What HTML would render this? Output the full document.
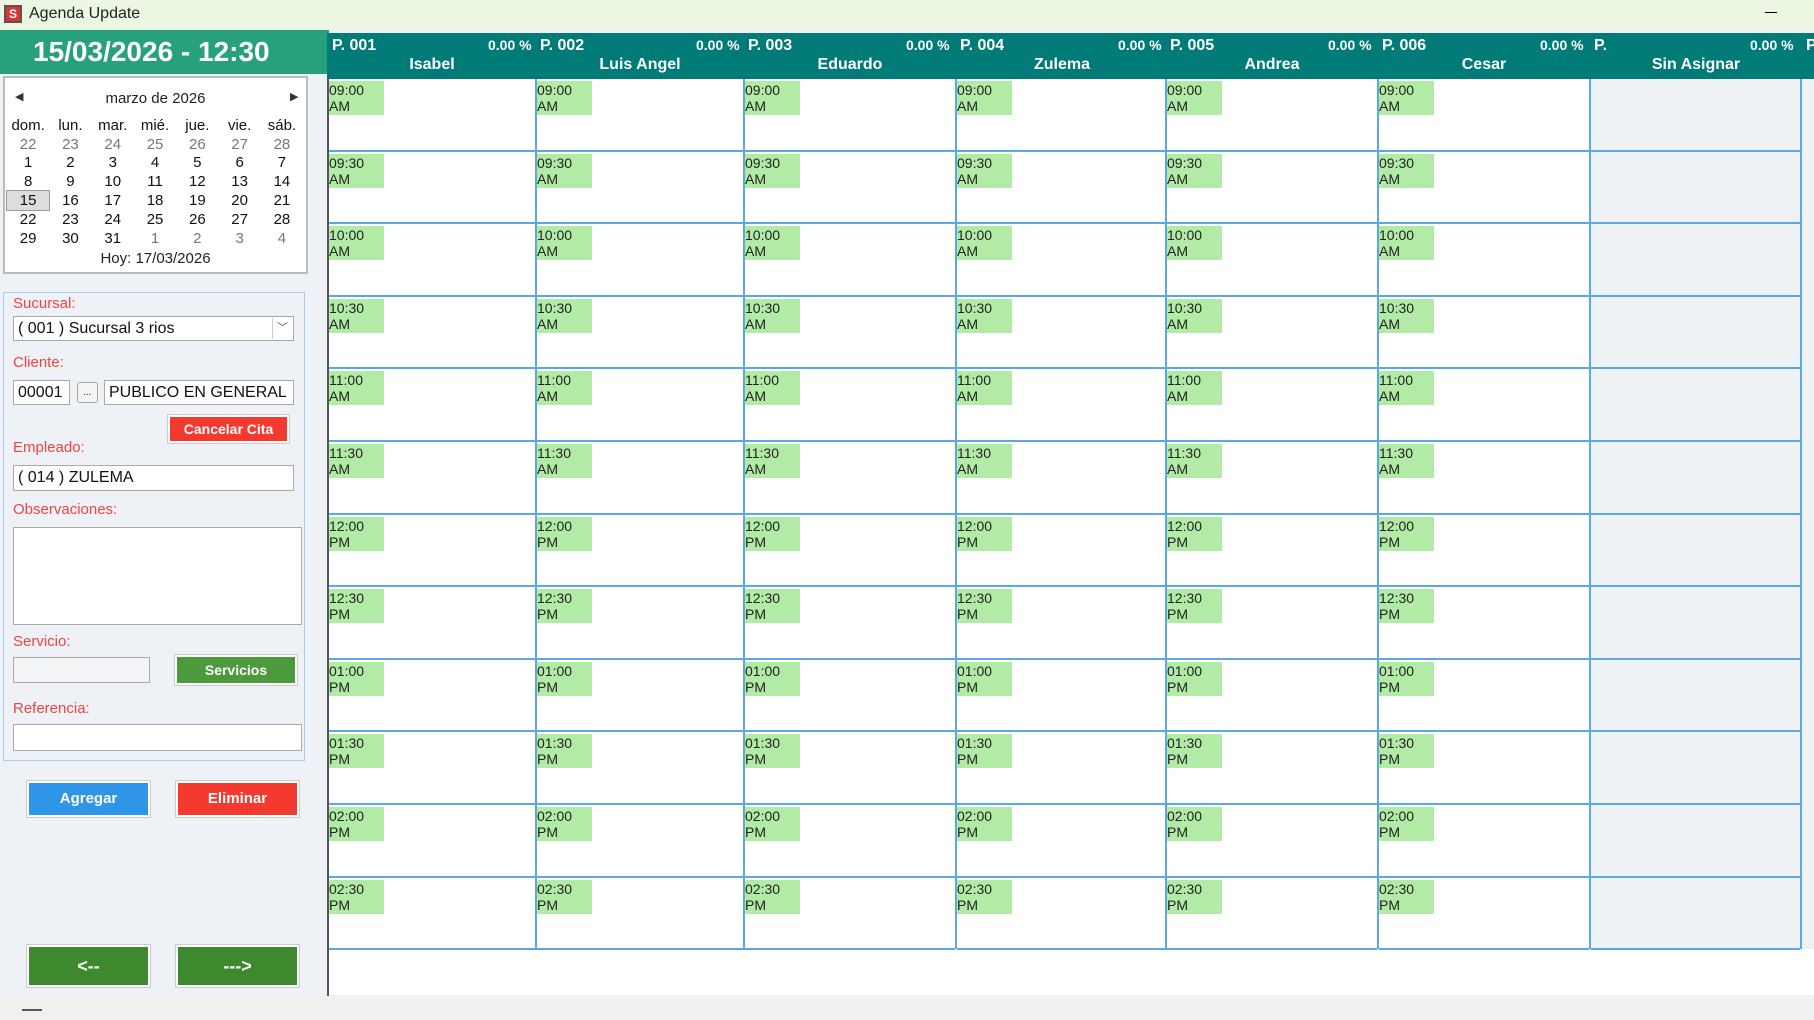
<!DOCTYPE html>
<html><head><meta charset="utf-8"><style>
*{box-sizing:border-box;margin:0;padding:0}
body{width:1814px;height:1020px;position:relative;overflow:hidden;background:#eef1f5;font-family:"Liberation Sans",sans-serif}
.a{position:absolute}
.tb{left:0;top:0;width:1814px;height:30px;background:#ebf7e3;font-size:16px;color:#222}
.lab{color:#ee4444;font-size:15px;position:absolute;left:13px}
.inp{position:absolute;background:#fff;border:1px solid #aaa;font-size:16px;color:#111;padding:3px 4px;white-space:nowrap}
.btn{position:absolute;color:#fff;font-weight:bold;font-size:14px;text-align:center;border:2px solid #fff;box-shadow:0 0 0 1px #ccc}
.col{position:absolute;top:79px;width:212px;height:870px;border-left:2px solid #5aa9e6;background:#fff}
.cell{height:72.6px;border-bottom:2px solid #5aa9e6;padding-top:2px}
.g{background:#b2eba6;width:55px;height:34px;font-size:14px;line-height:16px;color:#222;padding-top:1px}
.hd{position:absolute;top:35px;height:44px;color:#fff;font-weight:bold}
.cal{table-layout:fixed}
.cal td{text-align:center;font-size:15px;height:18.8px;color:#111;width:42.3px}
.cal .o{color:#777}
</style></head><body>
<div class="a tb"><div class="a" style="left:4px;top:5px;width:18px;height:18px;background:#d33;border:2px solid #555;color:#fff;font-size:12px;font-weight:bold;text-align:center;line-height:14px">S</div><div class="a" style="left:29px;top:5px">Agenda Update</div><div class="a" style="left:1765px;top:12px;width:12px;height:1px;background:#000"></div></div>
<div class="a" style="left:0;top:30px;width:329px;height:44px;background:#26a17b;color:#fff;font-weight:bold;font-size:28px;line-height:44px;padding-left:33px;white-space:nowrap">15/03/2026 - 12:30</div>
<div class="a" style="left:327px;top:33px;width:1487px;height:46px;background:#007b78"></div>
<div class="hd" style="left:332px;width:210px"><div class="a" style="top:2px;font-size:16px">P. 001</div><div class="a" style="left:156px;top:2px;font-size:14px">0.00 %</div><div class="a" style="left:0;width:200px;top:21px;font-size:16px;text-align:center">Isabel</div></div>
<div class="hd" style="left:540px;width:210px"><div class="a" style="top:2px;font-size:16px">P. 002</div><div class="a" style="left:156px;top:2px;font-size:14px">0.00 %</div><div class="a" style="left:0;width:200px;top:21px;font-size:16px;text-align:center">Luis Angel</div></div>
<div class="hd" style="left:748px;width:210px"><div class="a" style="top:2px;font-size:16px">P. 003</div><div class="a" style="left:158px;top:2px;font-size:14px">0.00 %</div><div class="a" style="left:0;width:204px;top:21px;font-size:16px;text-align:center">Eduardo</div></div>
<div class="hd" style="left:960px;width:210px"><div class="a" style="top:2px;font-size:16px">P. 004</div><div class="a" style="left:158px;top:2px;font-size:14px">0.00 %</div><div class="a" style="left:0;width:204px;top:21px;font-size:16px;text-align:center">Zulema</div></div>
<div class="hd" style="left:1170px;width:210px"><div class="a" style="top:2px;font-size:16px">P. 005</div><div class="a" style="left:158px;top:2px;font-size:14px">0.00 %</div><div class="a" style="left:0;width:204px;top:21px;font-size:16px;text-align:center">Andrea</div></div>
<div class="hd" style="left:1382px;width:210px"><div class="a" style="top:2px;font-size:16px">P. 006</div><div class="a" style="left:158px;top:2px;font-size:14px">0.00 %</div><div class="a" style="left:0;width:204px;top:21px;font-size:16px;text-align:center">Cesar</div></div>
<div class="hd" style="left:1594px;width:220px"><div class="a" style="top:2px;font-size:16px">P.</div><div class="a" style="left:156px;top:2px;font-size:14px">0.00 %</div><div class="a" style="left:0;width:204px;top:21px;font-size:16px;text-align:center">Sin Asignar</div><div class="a" style="left:212px;top:2px;font-size:16px">P</div></div>
<div class="a" style="left:327px;top:79px;width:1487px;height:916px;background:#fff"></div>
<div class="col" style="left:327px"><div class="cell"><div class="g">09:00<br>AM</div></div><div class="cell"><div class="g">09:30<br>AM</div></div><div class="cell"><div class="g">10:00<br>AM</div></div><div class="cell"><div class="g">10:30<br>AM</div></div><div class="cell"><div class="g">11:00<br>AM</div></div><div class="cell"><div class="g">11:30<br>AM</div></div><div class="cell"><div class="g">12:00<br>PM</div></div><div class="cell"><div class="g">12:30<br>PM</div></div><div class="cell"><div class="g">01:00<br>PM</div></div><div class="cell"><div class="g">01:30<br>PM</div></div><div class="cell"><div class="g">02:00<br>PM</div></div><div class="cell"><div class="g">02:30<br>PM</div></div></div>
<div class="col" style="left:535px"><div class="cell"><div class="g">09:00<br>AM</div></div><div class="cell"><div class="g">09:30<br>AM</div></div><div class="cell"><div class="g">10:00<br>AM</div></div><div class="cell"><div class="g">10:30<br>AM</div></div><div class="cell"><div class="g">11:00<br>AM</div></div><div class="cell"><div class="g">11:30<br>AM</div></div><div class="cell"><div class="g">12:00<br>PM</div></div><div class="cell"><div class="g">12:30<br>PM</div></div><div class="cell"><div class="g">01:00<br>PM</div></div><div class="cell"><div class="g">01:30<br>PM</div></div><div class="cell"><div class="g">02:00<br>PM</div></div><div class="cell"><div class="g">02:30<br>PM</div></div></div>
<div class="col" style="left:743px"><div class="cell"><div class="g">09:00<br>AM</div></div><div class="cell"><div class="g">09:30<br>AM</div></div><div class="cell"><div class="g">10:00<br>AM</div></div><div class="cell"><div class="g">10:30<br>AM</div></div><div class="cell"><div class="g">11:00<br>AM</div></div><div class="cell"><div class="g">11:30<br>AM</div></div><div class="cell"><div class="g">12:00<br>PM</div></div><div class="cell"><div class="g">12:30<br>PM</div></div><div class="cell"><div class="g">01:00<br>PM</div></div><div class="cell"><div class="g">01:30<br>PM</div></div><div class="cell"><div class="g">02:00<br>PM</div></div><div class="cell"><div class="g">02:30<br>PM</div></div></div>
<div class="col" style="left:955px"><div class="cell"><div class="g">09:00<br>AM</div></div><div class="cell"><div class="g">09:30<br>AM</div></div><div class="cell"><div class="g">10:00<br>AM</div></div><div class="cell"><div class="g">10:30<br>AM</div></div><div class="cell"><div class="g">11:00<br>AM</div></div><div class="cell"><div class="g">11:30<br>AM</div></div><div class="cell"><div class="g">12:00<br>PM</div></div><div class="cell"><div class="g">12:30<br>PM</div></div><div class="cell"><div class="g">01:00<br>PM</div></div><div class="cell"><div class="g">01:30<br>PM</div></div><div class="cell"><div class="g">02:00<br>PM</div></div><div class="cell"><div class="g">02:30<br>PM</div></div></div>
<div class="col" style="left:1165px"><div class="cell"><div class="g">09:00<br>AM</div></div><div class="cell"><div class="g">09:30<br>AM</div></div><div class="cell"><div class="g">10:00<br>AM</div></div><div class="cell"><div class="g">10:30<br>AM</div></div><div class="cell"><div class="g">11:00<br>AM</div></div><div class="cell"><div class="g">11:30<br>AM</div></div><div class="cell"><div class="g">12:00<br>PM</div></div><div class="cell"><div class="g">12:30<br>PM</div></div><div class="cell"><div class="g">01:00<br>PM</div></div><div class="cell"><div class="g">01:30<br>PM</div></div><div class="cell"><div class="g">02:00<br>PM</div></div><div class="cell"><div class="g">02:30<br>PM</div></div></div>
<div class="col" style="left:1377px"><div class="cell"><div class="g">09:00<br>AM</div></div><div class="cell"><div class="g">09:30<br>AM</div></div><div class="cell"><div class="g">10:00<br>AM</div></div><div class="cell"><div class="g">10:30<br>AM</div></div><div class="cell"><div class="g">11:00<br>AM</div></div><div class="cell"><div class="g">11:30<br>AM</div></div><div class="cell"><div class="g">12:00<br>PM</div></div><div class="cell"><div class="g">12:30<br>PM</div></div><div class="cell"><div class="g">01:00<br>PM</div></div><div class="cell"><div class="g">01:30<br>PM</div></div><div class="cell"><div class="g">02:00<br>PM</div></div><div class="cell"><div class="g">02:30<br>PM</div></div></div>
<div class="col" style="left:1589px;width:213px;border-right:2px solid #5aa9e6;background:#eff2f5"><div class="cell"></div><div class="cell"></div><div class="cell"></div><div class="cell"></div><div class="cell"></div><div class="cell"></div><div class="cell"></div><div class="cell"></div><div class="cell"></div><div class="cell"></div><div class="cell"></div><div class="cell"></div></div>
<div class="a" style="left:1802px;top:79px;width:12px;height:870px;background:#eff2f5"></div>
<div class="a" style="left:327px;top:79px;width:2px;height:918px;background:#555"></div>
<div class="a" style="left:0;top:996px;width:1814px;height:24px;background:#f0f0f0"></div>
<div class="a" style="left:22px;top:1009px;width:20px;height:2px;background:#555"></div>
<div class="a" style="left:3px;top:76px;width:305px;height:198px;background:#fff;border:2px solid #bbb">
<div class="a" style="left:10px;top:12px;font-size:11px;color:#333">◀</div><div class="a" style="left:285px;top:12px;font-size:11px;color:#333">▶</div>
<div class="a" style="left:0;width:301px;top:12px;text-align:center;font-size:15px;color:#222">marzo de 2026</div>
<table class="cal a" style="left:2px;top:38px;width:296px;border-collapse:collapse">
<tr><td>dom.</td><td>lun.</td><td>mar.</td><td>mié.</td><td>jue.</td><td>vie.</td><td>sáb.</td></tr>
<tr><td class="o">22</td><td class="o">23</td><td class="o">24</td><td class="o">25</td><td class="o">26</td><td class="o">27</td><td class="o">28</td></tr>
<tr><td>1</td><td>2</td><td>3</td><td>4</td><td>5</td><td>6</td><td>7</td></tr>
<tr><td>8</td><td>9</td><td>10</td><td>11</td><td>12</td><td>13</td><td>14</td></tr>
<tr><td style="background:#ddd;outline:1px solid #999">15</td><td>16</td><td>17</td><td>18</td><td>19</td><td>20</td><td>21</td></tr>
<tr><td>22</td><td>23</td><td>24</td><td>25</td><td>26</td><td>27</td><td>28</td></tr>
<tr><td>29</td><td>30</td><td>31</td><td class="o">1</td><td class="o">2</td><td class="o">3</td><td class="o">4</td></tr>
</table>
<div class="a" style="left:0;width:301px;top:172px;text-align:center;font-size:15px;color:#222">Hoy: 17/03/2026</div>
</div>
<div class="a" style="left:3px;top:292px;width:302px;height:469px;border:1px solid #a9cdf0"></div>
<div class="lab" style="top:295px">Sucursal:</div>
<div class="inp" style="left:13px;top:316px;width:281px;height:25px">( 001 ) Sucursal 3 rios<div class="a" style="right:1px;top:1px;width:20px;height:21px;border-left:1px solid #ccc;font-size:11px;text-align:center;line-height:21px;color:#555">﹀</div></div>
<div class="lab" style="top:354px">Cliente:</div>
<div class="inp" style="left:13px;top:380px;width:57px;height:25px">00001</div>
<div class="inp" style="left:77px;top:382px;width:21px;height:21px;font-size:10px;background:#f4f4f4;border-radius:3px;padding:4px 5px">...</div>
<div class="inp" style="left:104px;top:380px;width:190px;height:25px">PUBLICO EN GENERAL</div>
<div class="btn" style="left:168px;top:415px;width:121px;height:28px;background:#f43a2f;line-height:24px">Cancelar Cita</div>
<div class="lab" style="top:439px">Empleado:</div>
<div class="inp" style="left:13px;top:465px;width:281px;height:26px">( 014 ) ZULEMA</div>
<div class="lab" style="top:501px">Observaciones:</div>
<div class="inp" style="left:13px;top:527px;width:289px;height:98px"></div>
<div class="lab" style="top:633px">Servicio:</div>
<div class="inp" style="left:13px;top:657px;width:137px;height:26px;background:#f4f5f7"></div>
<div class="btn" style="left:175px;top:655px;width:122px;height:30px;background:#4c9a3c;line-height:26px">Servicios</div>
<div class="lab" style="top:700px">Referencia:</div>
<div class="inp" style="left:13px;top:724px;width:289px;height:27px"></div>
<div class="btn" style="left:27px;top:781px;width:123px;height:36px;background:#2e95e8;line-height:32px;font-size:15px">Agregar</div>
<div class="btn" style="left:176px;top:781px;width:123px;height:36px;background:#f43a2f;line-height:32px;font-size:15px">Eliminar</div>
<div class="btn" style="left:27px;top:945px;width:123px;height:42px;background:#3d8a2e;line-height:38px;font-size:18px">&lt;--</div>
<div class="btn" style="left:176px;top:945px;width:123px;height:42px;background:#3d8a2e;line-height:38px;font-size:18px">---&gt;</div>
</body></html>
